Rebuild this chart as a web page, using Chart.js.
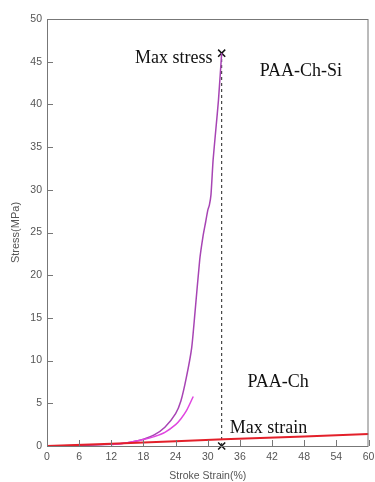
<!DOCTYPE html>
<html>
<head>
<meta charset="utf-8">
<script src="https://cdn.jsdelivr.net/npm/chart.js@4.4.1/dist/chart.umd.min.js"></script>
<style>
  html, body { margin: 0; padding: 0; background: #fff; }
  #wrap { width: 375px; height: 482px; position: relative; }
</style>
</head>
<body>
<div id="wrap"><canvas id="chart"></canvas></div>
<script>
// PAA-Ch-Si curve (strain %, stress MPa)
const siStrain = [0, 6, 12, 14, 16, 18, 20, 22, 24, 25, 26, 27, 27.6, 28.5, 29.1, 29.6, 30, 30.3, 30.6, 31, 31.5, 32, 32.6];
const siStress = [0, 0.05, 0.2, 0.3, 0.5, 0.8, 1.3, 2.2, 3.8, 5.3, 8, 11.5, 15.5, 21.8, 24.5, 26.2, 27.6, 28.2, 29.4, 33.5, 37, 40.5, 46];

// second (lighter magenta) curve
const chStrain = [12, 14, 16, 18, 20, 22, 24, 25, 26, 27.3];
const chStress = [0.15, 0.3, 0.5, 0.75, 1.1, 1.6, 2.5, 3.2, 4.1, 5.8];

// PAA-Ch red line
const redStrain = [0, 12, 24, 33, 48, 60];
const redStress = [0, 0.25, 0.55, 0.8, 1.1, 1.4];

// max markers
const maxStrainX = 32.6;
const maxStressY = 46;

const xTicks = [0, 6, 12, 18, 24, 30, 36, 42, 48, 54, 60];
const yTicks = [0, 5, 10, 15, 20, 25, 30, 35, 40, 45, 50];

const labels = [
  { text: 'Max stress', x: 30.9, y: 45.4, align: 'right' },
  { text: 'PAA-Ch-Si', x: 39.7, y: 43.9, align: 'left' },
  { text: 'PAA-Ch', x: 37.4, y: 7.5, align: 'left' },
  { text: 'Max strain', x: 34.1, y: 2.1, align: 'left' }
];

const toPts = (xs, ys) => xs.map((x, i) => ({ x: x, y: ys[i] }));

const boxAndTicks = {
  id: 'boxAndTicks',
  afterDraw(chart) {
    const ctx = chart.ctx;
    const a = chart.chartArea;
    const xs = chart.scales.x, ys = chart.scales.y;
    ctx.save();
    ctx.strokeStyle = '#777';
    ctx.lineWidth = 1;
    ctx.strokeRect(a.left + 0.5, a.top + 0.5, a.right - a.left - 1, a.bottom - a.top);
    ctx.beginPath();
    xTicks.forEach(v => {
      const px = Math.round(xs.getPixelForValue(v)) + 0.5;
      ctx.moveTo(px, a.bottom);
      ctx.lineTo(px, a.bottom - 6);
    });
    yTicks.forEach(v => {
      const py = Math.round(ys.getPixelForValue(v)) + 0.5;
      ctx.moveTo(a.left, py);
      ctx.lineTo(a.left + 6, py);
    });
    ctx.stroke();

    ctx.fillStyle = '#111';
    ctx.font = '18px "Liberation Serif", "Times New Roman", serif';
    ctx.textBaseline = 'middle';
    labels.forEach(l => {
      ctx.textAlign = l.align;
      ctx.fillText(l.text, xs.getPixelForValue(l.x), ys.getPixelForValue(l.y));
    });
    ctx.restore();
  }
};

new Chart(document.getElementById('chart'), {
  type: 'scatter',
  data: {
    datasets: [
      {
        label: 'PAA-Ch',
        data: toPts(redStrain, redStress),
        showLine: true,
        borderColor: '#e3202a',
        borderWidth: 2,
        pointRadius: 0
      },
      {
        label: 'second',
        data: toPts(chStrain, chStress),
        showLine: true,
        borderColor: '#e046e0',
        borderWidth: 1.5,
        pointRadius: 0,
        tension: 0.3
      },
      {
        label: 'PAA-Ch-Si',
        data: toPts(siStrain, siStress),
        showLine: true,
        borderColor: '#a744b4',
        borderWidth: 1.5,
        pointRadius: 0,
        tension: 0.2
      },
      {
        label: 'dash',
        data: [{ x: maxStrainX, y: 0 }, { x: maxStrainX, y: maxStressY }],
        showLine: true,
        borderColor: '#222',
        borderWidth: 1,
        borderDash: [3, 3],
        pointRadius: 0
      },
      {
        label: 'markers',
        data: [{ x: maxStrainX, y: maxStressY }, { x: maxStrainX, y: 0 }],
        showLine: false,
        clip: false,
        pointStyle: 'crossRot',
        pointRadius: 5,
        borderColor: '#111',
        borderWidth: 1.5
      }
    ]
  },
  options: {
    responsive: true,
    maintainAspectRatio: false,
    animation: false,
    layout: { padding: { top: 19, right: 6, left: 9, bottom: 0 } },
    plugins: {
      legend: { display: false },
      tooltip: { enabled: false }
    },
    scales: {
      x: {
        type: 'linear',
        min: 0,
        max: 60,
        afterBuildTicks: s => { s.ticks = xTicks.map(v => ({ value: v })); },
        afterFit: s => { s.height = 36; s.paddingLeft = 0; s.paddingRight = 0; },
        grid: { display: false, drawTicks: false },
        border: { display: false },
        ticks: { color: '#555', padding: 5, maxRotation: 0, font: { family: '"Liberation Sans", Arial, sans-serif', size: 10.5 } },
        title: { display: true, text: 'Stroke Strain(%)', color: '#555', padding: { top: 2, bottom: 0 }, font: { family: '"Liberation Sans", Arial, sans-serif', size: 10.5 } }
      },
      y: {
        type: 'linear',
        min: 0,
        max: 50,
        afterBuildTicks: s => { s.ticks = yTicks.map(v => ({ value: v })); },
        afterFit: s => { s.width = 38; },
        grid: { display: false, drawTicks: false },
        border: { display: false },
        ticks: { color: '#555', padding: 5, font: { family: '"Liberation Sans", Arial, sans-serif', size: 10.5 } },
        title: { display: true, text: 'Stress(MPa)', color: '#555', padding: 0, font: { family: '"Liberation Sans", Arial, sans-serif', size: 11 } }
      }
    }
  },
  plugins: [boxAndTicks]
});
</script>
</body>
</html>
